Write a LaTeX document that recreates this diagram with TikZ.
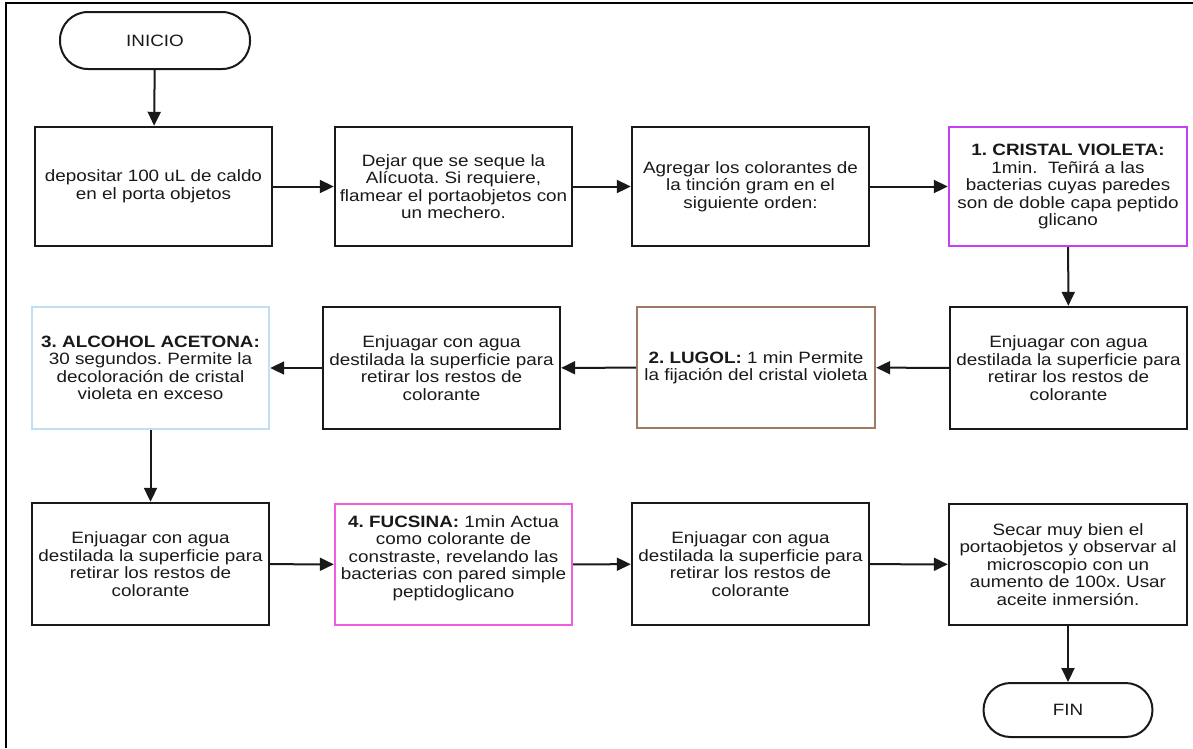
\documentclass[tikz,border=0pt]{standalone}
\usepackage{fontspec}
\setmainfont{Liberation Sans}[FakeStretch=1.15]
\usetikzlibrary{arrows.meta}
\frenchspacing
\definecolor{ink}{RGB}{25,25,25}
\definecolor{violetline}{RGB}{196,64,240}
\definecolor{blueline}{RGB}{190,224,245}
\definecolor{brownline}{RGB}{160,122,100}
\definecolor{pinkline}{RGB}{240,92,222}
\tikzset{
  stepbox/.style={draw=ink, line width=2.4pt, rectangle, minimum width=237pt,
    minimum height=119pt, inner sep=0pt, align=center, text=ink,
    font=\fontsize{16.4}{17.5}\selectfont},
  terminal/.style={draw=ink, line width=2pt, rectangle, rounded corners=28pt,
    minimum width=190pt, minimum height=57pt, inner sep=0pt, text=ink,
    font=\fontsize{16.4}{17.5}\selectfont},
  flow/.style={draw=ink, line width=2pt, -{Triangle[length=14pt,width=13pt]}}
}
\begin{document}
\begin{tikzpicture}[x=1pt,y=-1pt]
\useasboundingbox (0,0) rectangle (1193,748);
% page frame
\draw[line width=1.8pt, black] (6,748) -- (6,3) -- (1193,3);

% terminals
\node[terminal] (inicio) at (155,40.5) {INICIO};
\node[terminal, minimum width=169pt, minimum height=54pt, rounded corners=27pt] (fin) at (1068,710) {FIN};

% first row
\node[stepbox] (deposit) at (153.5,186.5) {depositar 100 uL de caldo\\en el porta objetos};
\node[stepbox] (dry) at (453.5,186.5) {Dejar que se seque la\\Alícuota. Si requiere,\\flamear el portaobjetos con\\un mechero.};
\node[stepbox] (add) at (750.5,186.5) {Agregar los colorantes de\\la tinción gram en el\\siguiente orden:};
\node[stepbox, draw=violetline, minimum width=238pt] (cristal) at (1068,186.5) {\textbf{1. CRISTAL VIOLETA:}\\1min.\ \ Teñirá a las\\bacterias cuyas paredes\\son de doble capa peptido\\glicano};

% second row
\node[stepbox, minimum height=122pt] (rinseA) at (1068.5,368) {Enjuagar con agua\\destilada la superficie para\\retirar los restos de\\colorante};
\node[stepbox, draw=brownline, minimum width=238pt, minimum height=121pt] (lugol) at (756,367.5) {\textbf{2. LUGOL:} 1 min Permite\\la fijación del cristal violeta};
\node[stepbox, minimum height=122pt] (rinseB) at (441.5,368) {Enjuagar con agua\\destilada la superficie para\\retirar los restos de\\colorante};
\node[stepbox, draw=blueline, minimum height=122pt] (alcohol) at (150.5,368) {\textbf{3. ALCOHOL ACETONA:}\\30 segundos. Permite la\\decoloración de cristal\\violeta en exceso};

% third row
\node[stepbox, minimum height=122pt] (rinseC) at (150.5,564) {Enjuagar con agua\\destilada la superficie para\\retirar los restos de\\colorante};
\node[stepbox, draw=pinkline, minimum height=121pt, text depth=16pt] (fucsina) at (453.5,564.5) {\textbf{4. FUCSINA:} 1min Actua\\como colorante de\\constraste, revelando las\\bacterias con pared simple\\peptidoglicano};
\node[stepbox, minimum height=122pt] (rinseD) at (750.5,564) {Enjuagar con agua\\destilada la superficie para\\retirar los restos de\\colorante};
\node[stepbox, minimum width=238pt, minimum height=121pt] (observe) at (1068,564.5) {Secar muy bien el\\portaobjetos y observar al\\microscopio con un\\aumento de 100x. Usar\\aceite inmersión.};

% connectors
\draw[flow] (inicio) -- (deposit);
\draw[flow] (deposit) -- (dry);
\draw[flow] (dry) -- (add);
\draw[flow] (add) -- (cristal);
\draw[flow] (cristal) -- (rinseA);
\draw[flow] (rinseA) -- (lugol);
\draw[flow] (lugol) -- (rinseB);
\draw[flow] (rinseB) -- (alcohol);
\draw[flow] (alcohol) -- (rinseC);
\draw[flow] (rinseC) -- (fucsina);
\draw[flow] (fucsina) -- (rinseD);
\draw[flow] (rinseD) -- (observe);
\draw[flow] (observe) -- (fin);
\end{tikzpicture}
\end{document}
